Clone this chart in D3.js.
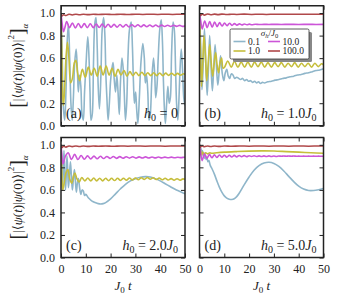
<!DOCTYPE html>
<html>
<head>
<meta charset="utf-8">
<script src="https://cdn.jsdelivr.net/npm/d3@7"></script>
<style>
  html, body { margin: 0; padding: 0; background: #fff; }
  svg { display: block; }
</style>
</head>
<body>
<script>
// tick values and labels
const xTicks = [0, 10, 20, 30, 40, 50];
const yTicks = [0, 0.2, 0.4, 0.6, 0.8, 1.0];
const panelTags = ["(a)", "(b)", "(c)", "(d)"];
const fieldValues = ["0", "1.0", "2.0", "5.0"];
const sigmaLabels = ["0.1", "1.0", "10.0", "100.0"];
const seriesColors = ["#8fb6ca", "#c6be3c", "#cc55d8", "#b0484a"];

// panel (a), h0 = 0 : [t, value]
const blueA = [[0,1.0],[0.5,0.6],[1.0,0.15],[1.5,0.05],[2.0,0.3],[2.5,0.75],[3.0,0.9],[3.5,0.6],[4.0,0.2],[4.5,0.05],[5.0,0.25],[5.5,0.55],[6.1,0.68],[6.6,0.5],[7.0,0.3],[7.5,0.45],[8.0,0.35],[8.5,0.1],[9.0,0.05],[9.5,0.3],[10.1,0.55],[10.8,0.79],[11.3,0.6],[11.7,0.3],[12.1,0.05],[12.6,0.1],[13.1,0.55],[13.6,0.9],[14.1,0.96],[14.6,0.7],[15.0,0.35],[15.5,0.15],[16.1,0.45],[16.6,0.85],[17.2,0.96],[17.7,0.8],[18.1,0.45],[18.5,0.25],[19.0,0.05],[19.5,0.2],[20.0,0.4],[20.5,0.5],[21.0,0.56],[21.5,0.4],[22.0,0.3],[22.5,0.45],[23.0,0.3],[23.5,0.1],[24.0,0.4],[24.6,0.6],[25.1,0.5],[25.5,0.3],[26.0,0.05],[26.5,0.2],[27.0,0.6],[27.6,0.85],[28.3,0.92],[28.8,0.7],[29.2,0.4],[29.6,0.2],[30.1,0.3],[30.5,0.15],[31.0,0.02],[31.6,0.25],[32.2,0.55],[33.0,0.73],[33.6,0.6],[34.0,0.38],[34.5,0.45],[35.0,0.3],[35.5,0.05],[36.0,0.1],[36.6,0.4],[37.3,0.6],[37.8,0.45],[38.2,0.25],[38.7,0.35],[39.2,0.6],[39.8,0.85],[40.4,0.94],[40.9,0.75],[41.3,0.4],[41.7,0.15],[42.1,0.02],[42.6,0.2],[43.1,0.35],[43.6,0.2],[44.1,0.25],[44.6,0.65],[45.2,0.92],[45.7,0.85],[46.2,0.5],[46.6,0.2],[47.1,0.05],[47.5,0.2],[48.0,0.5],[48.5,0.68],[49.0,0.5],[49.5,0.25],[50,0.18]];
const yellowA = [[0,1.0],[0.3,0.7],[0.7,0.25],[1.0,0.18],[1.5,0.35],[2.0,0.6],[2.6,0.74],[3.2,0.6],[3.9,0.38],[4.6,0.42],[5.4,0.56],[6.0,0.58],[6.7,0.47],[7.5,0.4],[8.6,0.5],[9.8,0.43],[11.0,0.52],[12.2,0.45],[13.4,0.51],[14.6,0.44],[15.8,0.53],[17.0,0.45],[18.2,0.53],[19.4,0.45],[20.6,0.51],[21.8,0.44],[23.0,0.5],[24.2,0.45],[25.4,0.49],[26.6,0.44],[27.8,0.48],[29.0,0.445],[30.2,0.475],[31.4,0.445],[32.6,0.475],[33.8,0.445],[35.0,0.47],[36.2,0.445],[37.4,0.47],[38.6,0.445],[39.8,0.468],[41.0,0.445],[42.2,0.467],[43.4,0.447],[44.6,0.466],[45.8,0.447],[47.0,0.465],[48.2,0.448],[49.4,0.462],[50,0.455]];
const magentaA = [[0,1.0],[0.5,0.9],[1.0,0.835],[1.6,0.875],[2.3,0.925],[3.4,0.87],[4.6,0.912],[5.8,0.868],[7.0,0.908],[8.2,0.87],[9.4,0.906],[10.6,0.87],[11.8,0.905],[13.0,0.871],[14.2,0.903],[15.4,0.872],[16.6,0.902],[17.8,0.873],[19.0,0.901],[20.2,0.874],[21.4,0.9],[22.6,0.875],[23.8,0.898],[25.0,0.876],[26.2,0.898],[27.4,0.877],[28.6,0.897],[29.8,0.878],[31.0,0.896],[32.2,0.878],[33.4,0.895],[34.6,0.879],[35.8,0.894],[37.0,0.88],[38.2,0.894],[39.4,0.88],[40.6,0.893],[41.8,0.881],[43.0,0.892],[44.2,0.881],[45.4,0.892],[46.6,0.882],[47.8,0.891],[49.0,0.882],[50,0.887]];
const redA = [[0,1.0],[0.4,0.975],[1.0,0.985],[2.0,0.978],[3.2,0.99],[4.5,0.983],[6,0.99],[7.5,0.985],[9,0.99],[11,0.986],[13,0.99],[15,0.987],[18,0.99],[21,0.987],[24,0.99],[27,0.987],[30,0.99],[33,0.988],[36,0.99],[39,0.988],[42,0.99],[45,0.988],[48,0.99],[50,0.989]];

// panel (b), h0 = 1.0 J0
const blueB = [[0,1.0],[0.5,0.7],[1.0,0.32],[1.5,0.55],[2.0,0.86],[2.6,0.52],[3.1,0.27],[3.6,0.5],[4.1,0.8],[4.7,0.5],[5.2,0.31],[5.7,0.5],[6.3,0.72],[6.9,0.5],[7.4,0.36],[8.0,0.5],[8.5,0.62],[9.2,0.46],[9.8,0.4],[10.4,0.47],[11.0,0.5],[11.6,0.44],[12.2,0.42],[12.8,0.46],[13.5,0.45],[14.2,0.42],[15.0,0.43],[15.8,0.42],[16.6,0.41],[17.4,0.42],[18.2,0.4],[19.0,0.41],[19.8,0.395],[20.6,0.4],[21.4,0.385],[22.2,0.395],[23.0,0.38],[23.8,0.39],[24.6,0.375],[25.4,0.385],[26.2,0.38],[27.5,0.39],[29,0.395],[30.5,0.405],[32,0.41],[33.5,0.42],[35,0.425],[36.5,0.435],[38,0.44],[39.5,0.45],[41,0.455],[42.5,0.465],[44,0.47],[45.5,0.48],[47,0.49],[48.5,0.495],[50,0.505]];
const yellowB = [[0,1.0],[0.4,0.65],[0.8,0.35],[1.3,0.55],[1.8,0.8],[2.4,0.62],[2.9,0.4],[3.5,0.55],[4.1,0.72],[4.7,0.57],[5.3,0.44],[5.9,0.55],[6.5,0.65],[7.1,0.54],[7.7,0.47],[8.3,0.56],[8.9,0.6],[9.5,0.51],[10.1,0.52],[11.4,0.575],[12.8,0.52],[14.1,0.57],[15.5,0.52],[16.8,0.565],[18.2,0.52],[19.5,0.565],[20.9,0.52],[22.2,0.565],[23.6,0.525],[24.9,0.565],[26.3,0.52],[27.6,0.56],[29.0,0.52],[30.3,0.56],[31.7,0.525],[33.0,0.56],[34.4,0.52],[35.7,0.555],[37.1,0.525],[38.4,0.56],[39.8,0.52],[41.1,0.555],[42.5,0.525],[43.8,0.555],[45.2,0.52],[46.5,0.555],[47.9,0.525],[49.2,0.55],[50,0.54]];
const magentaB = [[0,1.0],[0.5,0.93],[1.1,0.86],[2.1,0.93],[3.1,0.87],[4.1,0.925],[5.1,0.875],[6.1,0.92],[7.1,0.88],[8.1,0.915],[9.1,0.885],[10.1,0.912],[11.1,0.888],[12.1,0.91],[13.1,0.89],[14.1,0.906],[15.1,0.893],[16.1,0.904],[17.1,0.895],[18.1,0.903],[19.1,0.896],[20.1,0.902],[21.1,0.897],[22.5,0.901],[24,0.898],[26,0.9],[28,0.899],[30,0.9],[33,0.899],[36,0.9],[40,0.899],[44,0.9],[47,0.899],[50,0.9]];
const redB = [[0,1.0],[0.4,0.978],[1.0,0.99],[2.0,0.982],[3.2,0.992],[4.5,0.985],[6,0.991],[7.5,0.986],[9,0.991],[11,0.987],[13,0.99],[15,0.988],[18,0.991],[21,0.988],[24,0.99],[27,0.988],[30,0.99],[34,0.989],[38,0.99],[42,0.989],[46,0.99],[50,0.99]];

// panel (c), h0 = 2.0 J0
const blueC = [[0,1.0],[0.3,0.85],[0.6,0.6],[0.9,0.75],[1.2,0.95],[1.5,0.75],[1.8,0.6],[2.1,0.72],[2.4,0.9],[2.7,0.78],[3.0,0.62],[3.4,0.72],[3.8,0.85],[4.2,0.72],[4.6,0.6],[5.0,0.7],[5.4,0.78],[5.8,0.68],[6.2,0.58],[6.6,0.66],[7.0,0.7],[7.5,0.62],[8.0,0.56],[8.5,0.6],[9.0,0.59],[9.5,0.55],[10,0.56],[11,0.53],[12,0.51],[13,0.495],[14,0.485],[15,0.478],[16,0.475],[17,0.478],[18,0.487],[20,0.52],[22,0.565],[24,0.61],[26,0.65],[28,0.68],[30,0.7],[32,0.712],[34,0.718],[36,0.715],[38,0.7],[40,0.68],[42,0.655],[44,0.63],[46,0.605],[48,0.585],[50,0.565]];
const yellowC = [[0,1.0],[0.3,0.8],[0.7,0.6],[1.2,0.65],[2.0,0.75],[2.8,0.78],[3.5,0.7],[4.3,0.66],[5.0,0.72],[5.6,0.75],[6.4,0.7],[7.3,0.67],[8.4,0.71],[9.6,0.68],[10.8,0.705],[12.0,0.68],[13.2,0.705],[14.4,0.68],[15.6,0.703],[16.8,0.68],[18.0,0.703],[19.2,0.682],[20.4,0.703],[21.6,0.683],[22.8,0.703],[24.0,0.684],[25.2,0.704],[26.4,0.686],[27.6,0.705],[28.8,0.688],[30.0,0.706],[31.2,0.69],[32.4,0.708],[33.6,0.693],[34.8,0.71],[36.0,0.695],[37.2,0.708],[38.4,0.692],[39.6,0.705],[40.8,0.69],[42.0,0.703],[43.2,0.688],[44.4,0.7],[45.6,0.686],[46.8,0.699],[48.0,0.686],[49.2,0.698],[50,0.692]];
const magentaC = [[0,1.0],[0.4,0.9],[0.8,0.83],[1.8,0.9],[2.9,0.93],[4.2,0.87],[5.5,0.915],[6.8,0.87],[8.1,0.905],[9.4,0.872],[10.7,0.902],[12.0,0.875],[13.3,0.9],[14.6,0.876],[15.9,0.898],[17.2,0.878],[18.5,0.897],[19.8,0.879],[21.1,0.896],[22.4,0.88],[23.7,0.895],[25.0,0.881],[26.3,0.894],[27.6,0.882],[28.9,0.894],[30.2,0.882],[31.5,0.893],[32.8,0.883],[34.1,0.893],[35.4,0.883],[36.7,0.892],[38.0,0.884],[39.3,0.892],[40.6,0.884],[41.9,0.891],[43.2,0.885],[44.5,0.891],[45.8,0.885],[47.1,0.89],[48.4,0.886],[49.7,0.89],[50,0.889]];
const redC = [[0,1.0],[0.4,0.976],[1.0,0.988],[2.0,0.98],[3.2,0.99],[4.5,0.984],[6,0.99],[7.5,0.985],[9,0.99],[11,0.986],[13,0.99],[15,0.987],[18,0.99],[21,0.987],[24,0.99],[27,0.988],[30,0.99],[34,0.988],[38,0.99],[42,0.988],[46,0.99],[50,0.989]];

// panel (d), h0 = 5.0 J0
const blueD = [[0,1.0],[0.3,0.94],[0.6,0.97],[0.9,0.92],[1.2,0.95],[1.5,0.9],[1.8,0.93],[2.1,0.88],[2.4,0.91],[2.7,0.87],[3.0,0.89],[3.4,0.85],[3.8,0.86],[4.3,0.82],[5,0.79],[6,0.74],[7,0.68],[8,0.625],[9,0.58],[10,0.547],[11,0.527],[12,0.517],[13,0.515],[14,0.522],[15,0.54],[16,0.57],[18,0.645],[20,0.715],[22,0.775],[24,0.815],[26,0.838],[28,0.845],[30,0.835],[32,0.808],[34,0.768],[36,0.72],[38,0.673],[40,0.633],[42,0.607],[44,0.595],[46,0.595],[48,0.602],[50,0.613]];
const yellowD = [[0,1.0],[0.4,0.95],[0.8,0.91],[1.3,0.935],[1.8,0.915],[2.5,0.93],[3.2,0.92],[4,0.928],[5,0.925],[7,0.93],[10,0.935],[15,0.94],[20,0.944],[25,0.946],[30,0.945],[35,0.94],[40,0.935],[45,0.93],[50,0.925]];
const magentaD = [[0,1.0],[0.5,0.92],[1.1,0.86],[2.0,0.92],[3.0,0.88],[4.0,0.915],[5.0,0.885],[6.0,0.912],[7.0,0.888],[8.0,0.91],[9.0,0.89],[10.0,0.908],[11.0,0.891],[12.0,0.907],[13.0,0.892],[14.0,0.906],[15.0,0.893],[16.0,0.905],[17.0,0.894],[18.0,0.904],[19.0,0.895],[20.0,0.903],[21.0,0.896],[22.0,0.903],[23.0,0.896],[24.0,0.902],[25.0,0.897],[26.0,0.902],[27.0,0.897],[28.0,0.902],[29.0,0.897],[30.0,0.901],[31.0,0.897],[32.0,0.901],[33.0,0.898],[34.0,0.901],[35.0,0.898],[36.0,0.901],[37.0,0.898],[38.0,0.901],[39.0,0.898],[40.0,0.9],[41.0,0.898],[42.0,0.9],[43.0,0.898],[44.0,0.9],[45.0,0.898],[46.0,0.9],[47.0,0.898],[48.0,0.9],[49.0,0.898],[50,0.899]];
const redD = [[0,1.0],[0.4,0.98],[1.0,0.99],[2.0,0.983],[3.2,0.99],[4.5,0.985],[6,0.99],[8,0.986],[10,0.99],[13,0.987],[16,0.99],[20,0.988],[24,0.99],[28,0.988],[32,0.99],[36,0.988],[40,0.99],[44,0.988],[48,0.99],[50,0.989]];

const panelSeries = [
  [blueA, yellowA, magentaA, redA],
  [blueB, yellowB, magentaB, redB],
  [blueC, yellowC, magentaC, redC],
  [blueD, yellowD, magentaD, redD],
];

const width = 340, height = 300;
const panelW = 124, panelH = 120;
const lefts = [61, 199.5];
const tops = [5.75, 137.5];
const serif = "'Liberation Serif', 'DejaVu Serif', serif";

const svg = d3.select("body").append("svg")
  .attr("width", width)
  .attr("height", height)
  .attr("viewBox", [0, 0, width, height])
  .style("font-family", serif);

const x = d3.scaleLinear().domain([0, 50]);
const y = d3.scaleLinear().domain([0, 1.065]);

panelSeries.forEach((series, i) => {
  const col = i % 2, row = Math.floor(i / 2);
  const x0 = lefts[col], y0 = tops[row];
  const xs = x.copy().range([x0, x0 + panelW]);
  const ys = y.copy().range([y0 + panelH, y0]);
  const g = svg.append("g");

  g.append("clipPath").attr("id", "clip" + i)
    .append("rect")
    .attr("x", x0).attr("y", y0).attr("width", panelW).attr("height", panelH);

  const line = d3.line()
    .curve(d3.curveCatmullRom.alpha(0.5))
    .x(d => xs(d[0]))
    .y(d => ys(d[1]));

  const lines = g.append("g").attr("clip-path", `url(#clip${i})`);
  series.forEach((s, k) => {
    lines.append("path")
      .attr("d", line(s))
      .attr("fill", "none")
      .attr("stroke", seriesColors[k])
      .attr("stroke-width", 1.6)
      .attr("stroke-linejoin", "round");
  });

  // axes with inward ticks on every side
  const bottom = g.append("g").attr("transform", `translate(0,${y0 + panelH})`)
    .call(d3.axisBottom(xs).tickValues(xTicks).tickSizeInner(-4).tickSizeOuter(0).tickPadding(7));
  const top = g.append("g").attr("transform", `translate(0,${y0})`)
    .call(d3.axisTop(xs).tickValues(xTicks).tickSizeInner(-4).tickSizeOuter(0));
  const left = g.append("g").attr("transform", `translate(${x0},0)`)
    .call(d3.axisLeft(ys).tickValues(yTicks).tickFormat(d3.format(".1f")).tickSizeInner(-4).tickSizeOuter(0).tickPadding(6));
  const right = g.append("g").attr("transform", `translate(${x0 + panelW},0)`)
    .call(d3.axisRight(ys).tickValues(yTicks).tickSizeInner(-4).tickSizeOuter(0));

  [bottom, top, left, right].forEach(a => {
    a.attr("font-family", null).attr("font-size", null);
    a.select(".domain").remove();
    a.selectAll(".tick line").attr("stroke", "#222").attr("stroke-width", 1);
    a.selectAll("text").style("font-family", serif).style("font-size", "12px").attr("fill", "#222");
  });
  top.selectAll("text").remove();
  right.selectAll("text").remove();
  if (row === 0) bottom.selectAll("text").remove();
  if (col === 1) left.selectAll("text").remove();

  g.append("rect")
    .attr("x", x0).attr("y", y0).attr("width", panelW).attr("height", panelH)
    .attr("fill", "none").attr("stroke", "#222").attr("stroke-width", 1.5);

  // panel tag and field label
  g.append("text")
    .attr("x", x0 + 5).attr("y", y0 + panelH - 7.5)
    .attr("font-size", 14).attr("fill", "#222")
    .text(panelTags[i]);

  const h = g.append("text")
    .attr("x", x0 + panelW - 7).attr("y", y0 + panelH - 7.5)
    .attr("text-anchor", "end").attr("font-size", 14).attr("fill", "#222");
  h.append("tspan").attr("font-style", "italic").text("h");
  h.append("tspan").attr("font-size", 10).attr("dy", 3).text("0");
  h.append("tspan").attr("dy", -3).text(" = " + fieldValues[i]);
  if (fieldValues[i] !== "0") {
    h.append("tspan").attr("font-style", "italic").text("J");
    h.append("tspan").attr("font-size", 10).attr("dy", 3).text("0");
  }

  if (row === 1) {
    const xl = g.append("text")
      .attr("x", x0 + panelW / 2).attr("y", 290)
      .attr("text-anchor", "middle").attr("font-size", 13).attr("fill", "#222");
    xl.append("tspan").attr("font-style", "italic").text("J");
    xl.append("tspan").attr("font-size", 9).attr("dy", 3).text("0");
    xl.append("tspan").attr("dy", -3).attr("font-style", "italic").text(" t");
  }

  if (col === 0) {
    const yl = g.append("text")
      .attr("transform", `translate(22,${y0 + panelH / 2}) rotate(-90)`)
      .attr("text-anchor", "middle").attr("font-size", 13).attr("fill", "#222");
    yl.append("tspan").attr("font-size", 20).attr("dy", 2).text("[");
    yl.append("tspan").attr("dy", -2).text("|⟨");
    yl.append("tspan").attr("font-style", "italic").text("ψ");
    yl.append("tspan").text("(");
    yl.append("tspan").attr("font-style", "italic").text("t");
    yl.append("tspan").text(")|");
    yl.append("tspan").attr("font-style", "italic").text("ψ");
    yl.append("tspan").text("(0)⟩|");
    yl.append("tspan").attr("font-size", 9).attr("dy", -8).text("2");
    yl.append("tspan").attr("font-size", 20).attr("dy", 10).text("]");
    yl.append("tspan").attr("font-size", 9).attr("font-style", "italic").attr("dy", 4).text("α");
  }

  // legend inside panel (b)
  if (i === 1) {
    const lx = x0 + 30.5, ly = y0 + 23.25, lw = 79, lh = 30;
    const lg = g.append("g");
    lg.append("rect").attr("x", lx + 3).attr("y", ly + 3).attr("width", lw).attr("height", lh)
      .attr("rx", 1.5).attr("fill", "#888");
    lg.append("rect").attr("x", lx).attr("y", ly).attr("width", lw).attr("height", lh)
      .attr("rx", 1.5).attr("fill", "#fff").attr("stroke", "#333").attr("stroke-width", 0.8);
    const tt = lg.append("text").attr("x", lx + lw / 2).attr("y", ly + 7)
      .attr("text-anchor", "middle").attr("font-size", 9).attr("fill", "#222");
    tt.append("tspan").attr("font-style", "italic").text("σ");
    tt.append("tspan").attr("font-style", "italic").attr("font-size", 6.5).attr("dy", 1.5).text("h");
    tt.append("tspan").attr("dy", -1.5).text("/");
    tt.append("tspan").attr("font-style", "italic").text("J");
    tt.append("tspan").attr("font-size", 6.5).attr("dy", 1.5).text("0");
    sigmaLabels.forEach((lab, k) => {
      const c = Math.floor(k / 2), r = k % 2;
      const sx = lx + 3.5 + c * 34.5, sy = ly + 12.5 + r * 9.5;
      lg.append("line").attr("x1", sx).attr("x2", sx + 12).attr("y1", sy).attr("y2", sy)
        .attr("stroke", seriesColors[k]).attr("stroke-width", 1.6);
      lg.append("text").attr("x", sx + 14.5).attr("y", sy + 3.3)
        .attr("font-size", 9.5).attr("fill", "#222").text(lab);
    });
  }
});
</script>
</body>
</html>
